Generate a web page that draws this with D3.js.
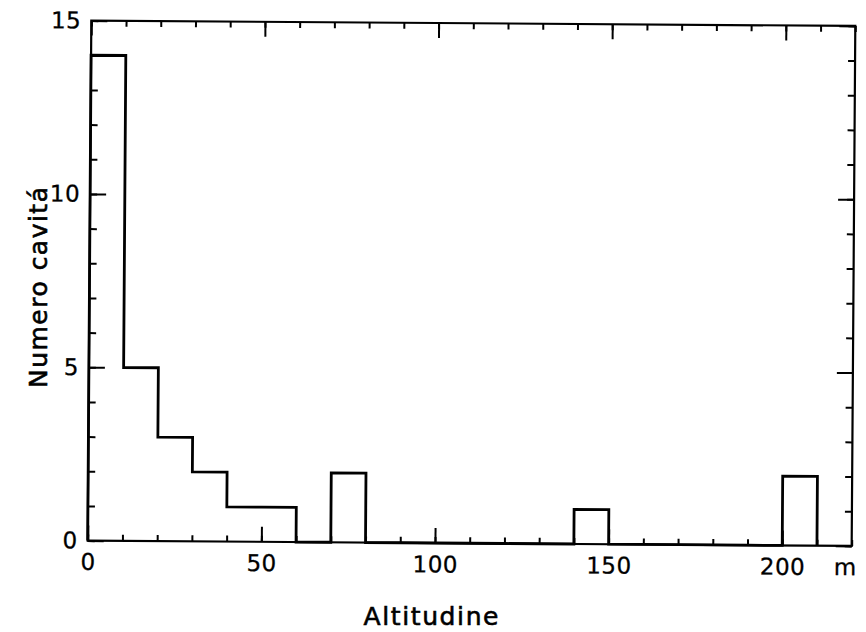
<!DOCTYPE html>
<html>
<head>
<meta charset="utf-8">
<script src="https://cdn.jsdelivr.net/npm/d3@7"></script>
<style>
  html, body { margin: 0; padding: 0; background: #fff; }
  svg { display: block; }
</style>
</head>
<body>
<svg id="chart" width="866" height="632"></svg>
<script>
// ---- data ----
const binStarts = [0,10,20,30,40,50,60,70,80,90,100,110,120,130,140,150,160,170,180,190,200];
const binWidth = 10;
const counts    = [14,5,3,2,1,1,0,2,0,0,0,0,0,0,1,0,0,0,0,0,2];
const xMajorTicks = [0,50,100,150,200];
const xMinorTicks = d3.range(0, 221, 10);
const yMajorTicks = [0,5,10,15];
const yMinorTicks = d3.range(0, 16, 1);
const xUnit = "m";
const xTitle = "Altitudine";
const yTitle = "Numero cavitá";

// ---- layout ----
const svg = d3.select("#chart");
const pLeft = 89.5, pRight = 853.5, pTop = 23.25, pBottom = 543.25;
const x = d3.scaleLinear().domain([0, 220]).range([pLeft, pRight]);
const y = d3.scaleLinear().domain([0, 15]).range([pBottom, pTop]);
const font = "'DejaVu Sans', sans-serif";
const tickFontSize = 23;

// the scanned figure is slightly rotated
const g = svg.append("g").attr("transform", "rotate(0.4, 471.5, 283.25)");

function styleAxis(sel) {
  sel.attr("font-size", null).attr("font-family", null);
  sel.select(".domain").remove();
  sel.selectAll(".tick line").attr("stroke", "#000").attr("stroke-width", 2);
  sel.selectAll(".tick text")
    .attr("fill", "#000")
    .attr("stroke", "#000").attr("stroke-width", 0.3)
    .style("font-family", font)
    .style("font-size", tickFontSize + "px")
    .style("letter-spacing", "0.5px");
}

const minorLenX = 6, majorLenX = 15, minorLenY = 7, majorLenY = 16;

// bottom axis
g.append("g").attr("transform", `translate(0,${pBottom})`)
  .call(d3.axisBottom(x).tickValues(xMinorTicks).tickSize(-minorLenX).tickFormat(""))
  .call(styleAxis);
g.append("g").attr("transform", `translate(0,${pBottom})`)
  .call(d3.axisBottom(x).tickValues(xMajorTicks).tickSize(-majorLenX).tickPadding(13).tickFormat(d3.format("d")))
  .call(styleAxis);
// top axis
g.append("g").attr("transform", `translate(0,${pTop})`)
  .call(d3.axisTop(x).tickValues(xMinorTicks).tickSize(-minorLenX).tickFormat(""))
  .call(styleAxis);
g.append("g").attr("transform", `translate(0,${pTop})`)
  .call(d3.axisTop(x).tickValues(xMajorTicks).tickSize(-majorLenX).tickFormat(""))
  .call(styleAxis);
// left axis
g.append("g").attr("transform", `translate(${pLeft},0)`)
  .call(d3.axisLeft(y).tickValues(yMinorTicks).tickSize(-minorLenY).tickFormat(""))
  .call(styleAxis);
g.append("g").attr("transform", `translate(${pLeft},0)`)
  .call(d3.axisLeft(y).tickValues(yMajorTicks).tickSize(-majorLenY).tickPadding(10).tickFormat(d3.format("d")))
  .call(styleAxis);
// right axis
g.append("g").attr("transform", `translate(${pRight},0)`)
  .call(d3.axisRight(y).tickValues(yMinorTicks).tickSize(-minorLenY).tickFormat(""))
  .call(styleAxis);
g.append("g").attr("transform", `translate(${pRight},0)`)
  .call(d3.axisRight(y).tickValues(yMajorTicks).tickSize(-majorLenY).tickFormat(""))
  .call(styleAxis);

// frame
g.append("rect")
  .attr("x", pLeft).attr("y", pTop)
  .attr("width", pRight - pLeft).attr("height", pBottom - pTop)
  .attr("fill", "none").attr("stroke", "#000").attr("stroke-width", 2.2);

// histogram outline (step line)
const pts = [[0, 0]].concat(binStarts.map((s, i) => [s, counts[i]]));
pts.push([binStarts[binStarts.length - 1] + binWidth, 0]);
const line = d3.line().x(d => x(d[0])).y(d => y(d[1])).curve(d3.curveStepAfter);
g.append("path")
  .attr("d", line(pts))
  .attr("fill", "none").attr("stroke", "#000").attr("stroke-width", 2.8)
  .attr("stroke-linejoin", "miter");

// unit label
g.append("text")
  .attr("x", 847).attr("y", pBottom + 13 + 0.71 * tickFontSize)
  .attr("text-anchor", "middle")
  .attr("stroke", "#000").attr("stroke-width", 0.3)
  .style("font-family", font).style("font-size", tickFontSize + "px")
  .text(xUnit);

// axis titles
svg.append("text")
  .attr("x", 431).attr("y", 625)
  .attr("text-anchor", "middle")
  .attr("textLength", 135).attr("lengthAdjust", "spacing")
  .attr("stroke", "#000").attr("stroke-width", 0.6)
  .style("font-family", font).style("font-size", "25px")
  .text(xTitle);

svg.append("text")
  .attr("transform", "translate(47,287.5) rotate(-90)")
  .attr("text-anchor", "middle")
  .attr("textLength", 201).attr("lengthAdjust", "spacing")
  .attr("stroke", "#000").attr("stroke-width", 0.6)
  .style("font-family", font).style("font-size", "25px")
  .text(yTitle);
</script>
</body>
</html>
